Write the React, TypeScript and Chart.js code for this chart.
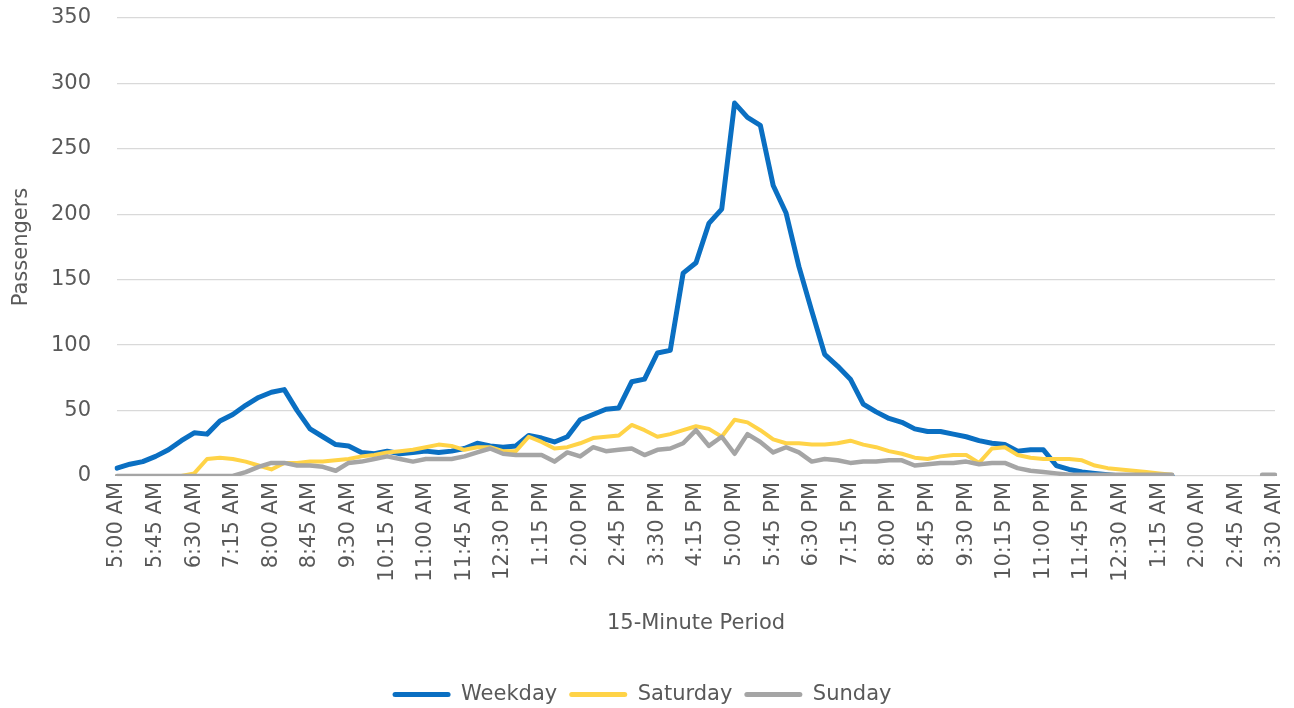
import React, { useEffect, useRef } from 'react';
import { Chart, registerables } from 'chart.js';

Chart.register(...registerables);

const periods: string[] = [
  '5:00 AM', '5:15 AM', '5:30 AM', '5:45 AM', '6:00 AM', '6:15 AM', '6:30 AM', '6:45 AM', '7:00 AM', '7:15 AM',
  '7:30 AM', '7:45 AM', '8:00 AM', '8:15 AM', '8:30 AM', '8:45 AM', '9:00 AM', '9:15 AM', '9:30 AM', '9:45 AM',
  '10:00 AM', '10:15 AM', '10:30 AM', '10:45 AM', '11:00 AM', '11:15 AM', '11:30 AM', '11:45 AM', '12:00 PM', '12:15 PM',
  '12:30 PM', '12:45 PM', '1:00 PM', '1:15 PM', '1:30 PM', '1:45 PM', '2:00 PM', '2:15 PM', '2:30 PM', '2:45 PM',
  '3:00 PM', '3:15 PM', '3:30 PM', '3:45 PM', '4:00 PM', '4:15 PM', '4:30 PM', '4:45 PM', '5:00 PM', '5:15 PM',
  '5:30 PM', '5:45 PM', '6:00 PM', '6:15 PM', '6:30 PM', '6:45 PM', '7:00 PM', '7:15 PM', '7:30 PM', '7:45 PM',
  '8:00 PM', '8:15 PM', '8:30 PM', '8:45 PM', '9:00 PM', '9:15 PM', '9:30 PM', '9:45 PM', '10:00 PM', '10:15 PM',
  '10:30 PM', '10:45 PM', '11:00 PM', '11:15 PM', '11:30 PM', '11:45 PM', '12:00 AM', '12:15 AM', '12:30 AM', '12:45 AM',
  '1:00 AM', '1:15 AM', '1:30 AM', '1:45 AM', '2:00 AM', '2:15 AM', '2:30 AM', '2:45 AM', '3:00 AM', '3:15 AM',
  '3:30 AM',
];

const weekday: (number | null)[] = [
  6, 9, 11, 15, 20, 27, 33, 32, 42, 47,
  54, 60, 64, 66, 50, 36, 30, 24, 23, 18,
  17, 19, 17, 18, 19, 18, 19, 21, 25, 23,
  22, 23, 31, 29, 26, 30, 43, 47, 51, 52,
  72, 74, 94, 96, 155, 163, 193, 204, 285, 274,
  268, 222, 201, 160, 126, 93, 84, 74, 55, 49,
  44, 41, 36, 34, 34, 32, 30, 27, 25, 24,
  19, 20, 20, 8, 5, 3, 2, 1, 0, 0,
  0, 0, 0, null, null, null, null, null, null, null,
  null,
];

const saturday: (number | null)[] = [
  0, 0, 0, 0, 0, 0, 2, 13, 14, 13,
  11, 8, 5, 10, 10, 11, 11, 12, 13, 15,
  16, 18, 19, 20, 22, 24, 23, 20, 22, 22,
  19, 19, 30, 26, 21, 22, 25, 29, 30, 31,
  39, 35, 30, 32, 35, 38, 36, 30, 43, 41,
  35, 28, 25, 25, 24, 24, 25, 27, 24, 22,
  19, 17, 14, 13, 15, 16, 16, 10, 21, 22,
  16, 14, 13, 13, 13, 12, 8, 6, 5, 4,
  3, 2, 1, null, null, null, null, null, null, null,
  null,
];

const sunday: (number | null)[] = [
  0, 0, 0, 0, 0, 0, 0, 0, 0, 0,
  3, 7, 10, 10, 8, 8, 7, 4, 10, 11,
  13, 15, 13, 11, 13, 13, 13, 15, 18, 21,
  17, 16, 16, 16, 11, 18, 15, 22, 19, 20,
  21, 16, 20, 21, 25, 35, 23, 30, 17, 32,
  26, 18, 22, 18, 11, 13, 12, 10, 11, 11,
  12, 12, 8, 9, 10, 10, 11, 9, 10, 10,
  6, 4, 3, 2, 1, 1, 1, 1, 1, 1,
  1, 1, 1, null, null, null, null, null, null, 1,
  1,
];

const seriesNames = ['Weekday', 'Saturday', 'Sunday'];
const seriesColors = ['#0A6FC2', '#FFD347', '#A5A5A5'];
const yMin = 0;
const yMax = 350;
const yStep = 50;
const labelEvery = 3;

const FONT = 'DejaVu Sans';
const TEXT = '#595959';

export default function App() {
  const ref = useRef<HTMLCanvasElement | null>(null);

  useEffect(() => {
    if (!ref.current) return;
    const values = [weekday, saturday, sunday];
    const widths = [5, 4, 4.5];
    const chart = new Chart(ref.current, {
      type: 'line',
      data: {
        labels: periods,
        datasets: values.map((d, i) => ({
          label: seriesNames[i],
          data: d,
          borderColor: seriesColors[i],
          backgroundColor: seriesColors[i],
          borderWidth: widths[i],
          pointRadius: 0,
          tension: 0,
          fill: false,
          spanGaps: false,
          borderJoinStyle: 'round' as const,
          borderCapStyle: 'round' as const,
          order: 2 - i,
        })),
      },
      options: {
        animation: false,
        responsive: false,
        maintainAspectRatio: false,
        layout: { padding: { top: 18, right: 19, left: 9, bottom: -7 } },
        plugins: {
          tooltip: { enabled: false },
          legend: {
            position: 'bottom',
            labels: {
              boxWidth: 58,
              boxHeight: 5,
              padding: 12,
              color: TEXT,
              font: { family: FONT, size: 21 },
              sort: (a: any, b: any) => a.datasetIndex - b.datasetIndex,
              generateLabels: (c: any) => {
                const items = Chart.defaults.plugins.legend.labels.generateLabels(c);
                return items.map((it: any) => ({
                  ...it,
                  lineWidth: 0,
                  fillStyle: seriesColors[it.datasetIndex],
                  borderRadius: 2.5,
                }));
              },
            },
          },
        },
        scales: {
          x: {
            type: 'category',
            offset: false,
            grid: { display: false, drawTicks: false },
            border: { display: false },
            afterFit: (s: any) => {
              s.paddingLeft = 0;
              s.paddingRight = 0;
              s.height = 196;
            },
            ticks: {
              autoSkip: false,
              maxRotation: 90,
              minRotation: 90,
              padding: 6,
              color: TEXT,
              font: { family: FONT, size: 21 },
              callback: (_v: any, idx: number) => (idx % labelEvery === 0 ? periods[idx] : ''),
            },
            title: {
              display: true,
              text: '15-Minute Period',
              color: TEXT,
              font: { family: FONT, size: 21 },
              padding: { top: 14, bottom: 36 },
            },
          },
          y: {
            min: yMin,
            max: yMax,
            grid: { color: '#D9D9D9', lineWidth: 1.3, drawTicks: false },
            border: { display: false },
            afterFit: (s: any) => {
              s.width = 108;
              s.paddingTop = 0;
              s.paddingBottom = 0;
            },
            ticks: {
              stepSize: yStep,
              padding: 26,
              color: TEXT,
              font: { family: FONT, size: 21 },
            },
            title: {
              display: true,
              text: 'Passengers',
              color: TEXT,
              font: { family: FONT, size: 21 },
              padding: { top: 0, bottom: 8 },
            },
          },
        },
      },
    });
    return () => chart.destroy();
  }, []);

  return (
    <div style={{ position: 'fixed', left: 0, top: 0, width: 1294, height: 708, background: '#fff' }}>
      <canvas ref={ref} width={1294} height={708} style={{ width: 1294, height: 708 }} />
    </div>
  );
}
